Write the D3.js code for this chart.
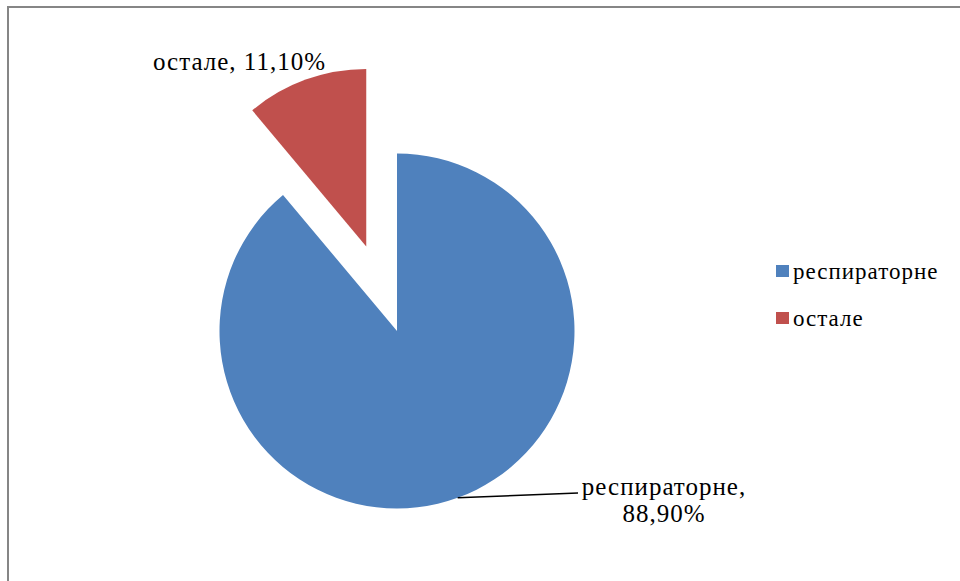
<!DOCTYPE html>
<html>
<head>
<meta charset="utf-8">
<script src="https://cdn.jsdelivr.net/npm/d3@7"></script>
<style>
  html, body { margin: 0; padding: 0; background: #fff; }
  svg { display: block; }
</style>
</head>
<body>
<svg id="chart" width="960" height="581"></svg>
<script>
// Share of cases by group
const categories = ["респираторне", "остале"];
const values = [88.9, 11.1];
const colors = ["#4F81BD", "#C0504D"];
const valueLabels = ["88,90%", "11,10%"];

const FONT = "'Liberation Serif', 'Times New Roman', serif";
const svg = d3.select("#chart");
const W = 960, H = 581;

// Chart frame (top and left edges visible)
svg.append("rect")
  .attr("x", 8).attr("y", 7)
  .attr("width", W + 20).attr("height", H + 20)
  .attr("fill", "none")
  .attr("stroke", "#868686")
  .attr("stroke-width", 2);

const cx = 397, cy = 331, radius = 177.5, explode = 90;

const pie = d3.pie().sort(null).value(d => d)(values);
const arc = d3.arc().innerRadius(0).outerRadius(radius);

const g = svg.append("g").attr("transform", `translate(${cx},${cy})`);

g.selectAll("path.slice")
  .data(pie)
  .join("path")
  .attr("class", "slice")
  .attr("fill", (d, i) => colors[i])
  .attr("d", arc)
  .attr("transform", (d, i) => {
    if (i !== 1) return null;
    const a = (d.startAngle + d.endAngle) / 2;
    return `translate(${Math.sin(a) * explode},${-Math.cos(a) * explode})`;
  });

// Label for the large slice with a leader line
const big = pie[0];
const aBig = (big.startAngle + big.endAngle) / 2;
const p0 = [Math.sin(aBig) * radius, -Math.cos(aBig) * radius];
g.append("line")
  .attr("x1", p0[0]).attr("y1", p0[1])
  .attr("x2", 578 - cx).attr("y2", 493 - cy)
  .attr("stroke", "#000").attr("stroke-width", 1.5);

const bigLabel = svg.append("text")
  .attr("text-anchor", "middle")
  .attr("font-family", FONT)
  .attr("font-size", 25)
  .attr("letter-spacing", 1);
bigLabel.append("tspan").attr("x", 664).attr("y", 495).text(categories[0] + ",");
bigLabel.append("tspan").attr("x", 664).attr("y", 522).text(valueLabels[0]);

// Label for the exploded slice
svg.append("text")
  .attr("x", 153).attr("y", 70)
  .attr("font-family", FONT)
  .attr("font-size", 25)
  .attr("letter-spacing", 1)
  .text(categories[1] + ", " + valueLabels[1]);

// Legend
const legend = svg.append("g").attr("transform", "translate(776,265)");
const items = legend.selectAll("g")
  .data(categories)
  .join("g")
  .attr("transform", (d, i) => `translate(0,${i * 47})`);
items.append("rect")
  .attr("width", 13).attr("height", 12)
  .attr("fill", (d, i) => colors[i]);
items.append("text")
  .attr("x", 17).attr("y", 14)
  .attr("font-family", FONT)
  .attr("font-size", 23)
  .attr("letter-spacing", 1)
  .text(d => d);
</script>
</body>
</html>
